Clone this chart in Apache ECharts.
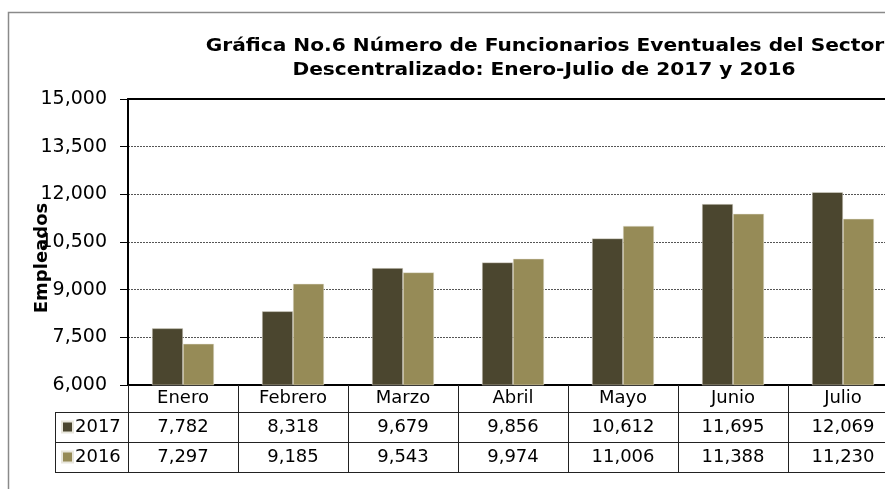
<!DOCTYPE html>
<html>
<head>
<meta charset="utf-8">
<script src="https://cdn.jsdelivr.net/npm/echarts@6/dist/echarts.min.js"></script>
<style>html,body{margin:0;padding:0;background:#fff;overflow:hidden;}#c{width:898px;height:489px;}</style>
</head>
<body>
<div id="c"></div>
<script>
const titleLines = ['Gráfica No.6 Número de Funcionarios Eventuales del Sector', 'Descentralizado: Enero-Julio de 2017 y 2016'];
const yAxisName = 'Empleados';
const categories = ['Enero', 'Febrero', 'Marzo', 'Abril', 'Mayo', 'Junio', 'Julio'];
const seriesNames = ['2017', '2016'];
const values2017 = [7782, 8318, 9679, 9856, 10612, 11695, 12069];
const values2016 = [7297, 9185, 9543, 9974, 11006, 11388, 11230];
const yMin = 6000, yMax = 15000, yStep = 1500;
const colors = ['#4b462f', '#968b57'];

const fmt = v => v.toLocaleString('en-US');
const FONT = 'DejaVu Sans';

const legendCommon = {
  orient: 'horizontal', left: 61, padding: 0,
  icon: 'rect', itemWidth: 11, itemHeight: 11, itemGap: 0,
  textStyle: {fontFamily: FONT, fontSize: 18, color: '#000', lineHeight: 20, padding: [0, 0, 0, -3]}
};

const chart = echarts.init(document.getElementById('c'), null, {renderer: 'canvas'});
chart.setOption({
  animation: false,
  backgroundColor: '#fff',
  color: colors,
  grid: {left: 128, top: 99, right: 0, bottom: 104, containLabel: false},
  legend: [
    Object.assign({}, legendCommon, {data: [seriesNames[0]], top: 417}),
    Object.assign({}, legendCommon, {data: [seriesNames[1]], top: 447})
  ],
  xAxis: [{
    type: 'category', data: categories, position: 'bottom',
    axisLine: {lineStyle: {color: '#000', width: 2}},
    axisTick: {show: true, alignWithLabel: false, length: 87, lineStyle: {color: '#222', width: 1}},
    axisLabel: {
      interval: 0, margin: 0, verticalAlign: 'top',
      formatter: (v, i) => `{h|${v}}\n{v|${fmt(values2017[i])}}\n{v|${fmt(values2016[i])}}`,
      rich: {
        h: {fontFamily: FONT, fontSize: 18, color: '#000', lineHeight: 27, align: 'center'},
        v: {fontFamily: FONT, fontSize: 18, color: '#000', lineHeight: 30, align: 'center'}
      }
    },
    splitLine: {show: false}
  }, {
    type: 'category', data: categories, position: 'top',
    axisLine: {lineStyle: {color: '#000', width: 2}},
    axisTick: {show: false}, axisLabel: {show: false}
  }],
  yAxis: {
    type: 'value', min: yMin, max: yMax, interval: yStep,
    axisLine: {show: true, lineStyle: {color: '#000', width: 2}},
    axisTick: {show: true, length: 8, lineStyle: {color: '#000', width: 1}},
    axisLabel: {fontFamily: FONT, fontSize: 19, color: '#000', margin: 21, formatter: v => fmt(v)},
    splitLine: {show: true, lineStyle: {color: '#555', width: 1, type: [2, 1]}}
  },
  series: [
    {name: seriesNames[0], type: 'bar', data: values2017, barWidth: 31, barGap: '0%',
     itemStyle: {color: colors[0], borderColor: '#e8e6dc', borderWidth: 0.5}},
    {name: seriesNames[1], type: 'bar', data: values2016, barWidth: 31, barGap: '0%',
     itemStyle: {color: colors[1], borderColor: '#e8e6dc', borderWidth: 0.5}}
  ],
  graphic: [
    {type: 'rect', shape: {x: 8.5, y: 12.5, width: 900, height: 500}, style: {fill: 'none', stroke: '#8a8a8a', lineWidth: 1.5}, silent: true},
    {type: 'text', x: 545, y: 46, scaleX: 1.12, style: {text: titleLines[0], font: 'bold 18px "DejaVu Sans"', fill: '#000', align: 'center', verticalAlign: 'middle'}},
    {type: 'text', x: 544, y: 70, scaleX: 1.12, style: {text: titleLines[1], font: 'bold 18px "DejaVu Sans"', fill: '#000', align: 'center', verticalAlign: 'middle'}},
    {type: 'text', x: 42, y: 258, rotation: Math.PI / 2, style: {text: yAxisName, font: 'bold 18px "DejaVu Sans"', fill: '#000', align: 'center', verticalAlign: 'middle'}},
    {type: 'line', shape: {x1: 55, y1: 412.5, x2: 900, y2: 412.5}, style: {stroke: '#222', lineWidth: 1}},
    {type: 'line', shape: {x1: 55, y1: 442.5, x2: 900, y2: 442.5}, style: {stroke: '#222', lineWidth: 1}},
    {type: 'line', shape: {x1: 55, y1: 472.5, x2: 900, y2: 472.5}, style: {stroke: '#222', lineWidth: 1}},
    {type: 'line', shape: {x1: 55.5, y1: 412, x2: 55.5, y2: 473}, style: {stroke: '#222', lineWidth: 1}}
  ]
});
</script>
</body>
</html>
